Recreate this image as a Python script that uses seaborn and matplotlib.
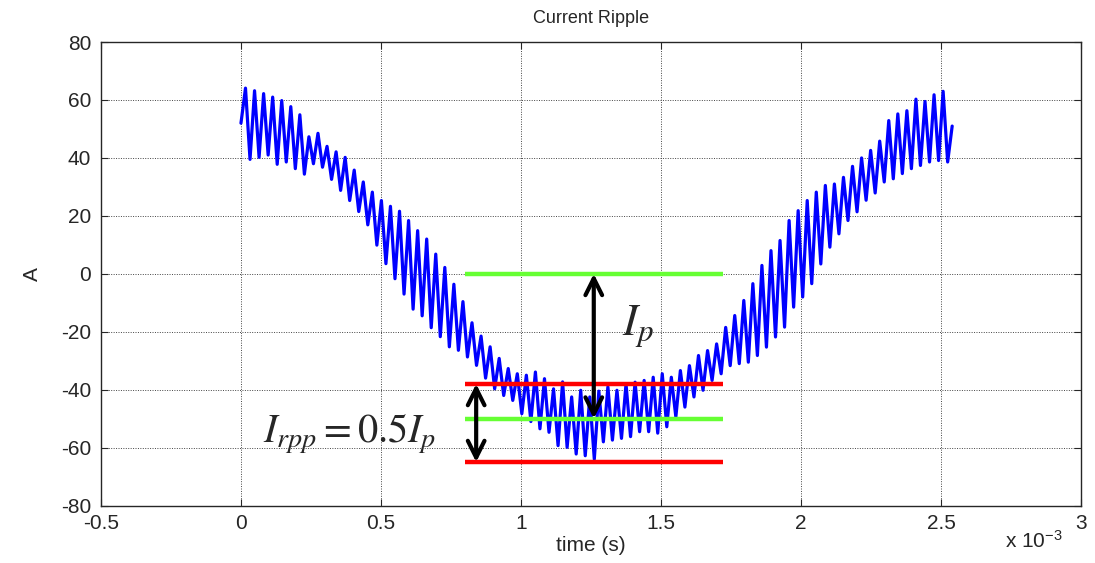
import numpy as np
import pandas as pd
import seaborn as sns
import matplotlib
matplotlib.use("Agg")
import matplotlib.pyplot as plt
from matplotlib.ticker import FormatStrFormatter

# ripple peaks / troughs per switching cycle (A)
peaks = [64.1, 63.2, 62.2, 61.0, 59.8, 57.7, 54.9, 47.3, 48.5, 44.0, 42.1, 40.2, 35.8,
         31.7, 28.2, 25.3, 23.3, 21.6, 18.4, 14.9, 12.0, 6.8, 2.2, -3.6, -9.6, -16.9,
         -21.5, -25.2, -29.2, -32.7, -34.5, -35.0, -33.9, -36.2, -39.7, -37.3, -42.5, -40.2, -42.5, -40.5,
         -39.0, -40.2, -38.0, -37.4, -36.8, -35.7, -34.5, -35.7, -33.4, -31.7, -28.2, -26.5, -24.2, -18.5,
         -14.4, -9.2, -3.4, 2.9, 8.0, 11.5, 18.4, 21.8, 25.3, 28.2, 30.5, 31.0, 33.3,
         37.1, 40.0, 42.6, 45.8, 52.9, 55.2, 56.3, 60.3, 59.5, 61.8, 63.0]
troughs = [39.5, 40.2, 41.0, 37.8, 38.6, 36.3, 34.4, 38.0, 36.8, 32.6, 28.8, 25.3, 21.5,
           16.9, 9.9, 3.5, -1.7, -7.0, -12.2, -14.5, -18.6, -21.7, -25.2, -26.4, -28.7, -31.6,
           -36.0, -39.7, -42.0, -43.7, -48.3, -51.0, -53.5, -54.7, -59.3, -59.9, -62.2, -62.8, -64.0, -58.0,
           -57.4, -56.8, -56.2, -54.5, -54.5, -55.0, -52.8, -49.4, -46.0, -42.5, -40.2, -36.8, -34.5, -31.7,
           -31.0, -30.5, -28.2, -25.3, -21.8, -18.4, -11.5, -8.0, -3.4, 3.4, 9.2, 13.8, 18.4,
           21.4, 25.4, 27.9, 31.7, 32.8, 34.6, 36.3, 37.4, 38.6, 39.1, 38.6]
start_val = 52.0
end_val = 51.0
t_end = 2.54  # x 10^-3 s

# guide levels (A) and their span (x 10^-3 s)
green_levels = [0, -50]
red_levels = [-38, -65]
guide_span = [0.8, 1.72]
ip_arrow_x = 1.26
irpp_arrow_x = 0.84

vals = [start_val]
for p, q in zip(peaks, troughs):
    vals += [p, q]
vals.append(end_val)
t = np.linspace(0, t_end, len(vals))
df = pd.DataFrame({"time": t, "A": vals})

sns.set_style("ticks")
plt.rcParams["font.family"] = ["Liberation Sans", "DejaVu Sans"]
plt.rcParams["mathtext.fontset"] = "stix"

fig = plt.figure(figsize=(10.95, 5.63), dpi=100)
ax = fig.add_axes([0.0922, 0.102, 0.895, 0.8233])

sns.lineplot(data=df, x="time", y="A", color="#0000ff", lw=2.3, ax=ax)

for lv in green_levels:
    ax.plot(guide_span, [lv, lv], color="#66ff33", lw=3.2, solid_capstyle="butt")
for lv in red_levels:
    ax.plot(guide_span, [lv, lv], color="#ff0000", lw=3.2, solid_capstyle="butt")

arrow = dict(arrowstyle="<->", lw=3, color="black", mutation_scale=30, shrinkA=0, shrinkB=0)
ax.annotate("", xy=(ip_arrow_x, green_levels[0]), xytext=(ip_arrow_x, green_levels[1]), arrowprops=arrow)
ax.annotate("", xy=(irpp_arrow_x, red_levels[0]), xytext=(irpp_arrow_x, red_levels[1]), arrowprops=arrow)

ax.text(1.36, -18, r"$I_p$", fontsize=32, ha="left", va="center")
ax.text(0.08, -55, r"$I_{rpp}=0.5I_p$", fontsize=29, ha="left", va="center")

ax.set_xlim(-0.5, 3)
ax.set_ylim(-80, 80)
ax.set_xticks(np.arange(-0.5, 3.01, 0.5))
ax.set_yticks(np.arange(-80, 81, 20))
ax.xaxis.set_major_formatter(FormatStrFormatter("%g"))
ax.yaxis.set_major_formatter(FormatStrFormatter("%g"))
ax.tick_params(direction="in", top=True, right=True, labelsize=15, length=5)
ax.tick_params(axis="x", pad=6)
ax.tick_params(axis="y", pad=7)
ax.grid(True, color="#444444", linestyle=(0, (1, 1.5)), linewidth=0.7)
for s in ax.spines.values():
    s.set_linewidth(1.0)

ax.set_xlabel("time (s)", fontsize=15, labelpad=2)
ax.set_ylabel("A", fontsize=15, labelpad=14)
ax.set_title("Current Ripple", fontsize=13, pad=14)
fig.text(0.918, 0.02, r"x 10$^{\mathregular{-3}}$", fontsize=15, ha="left", va="bottom")

fig.savefig("out.png", dpi=100)
